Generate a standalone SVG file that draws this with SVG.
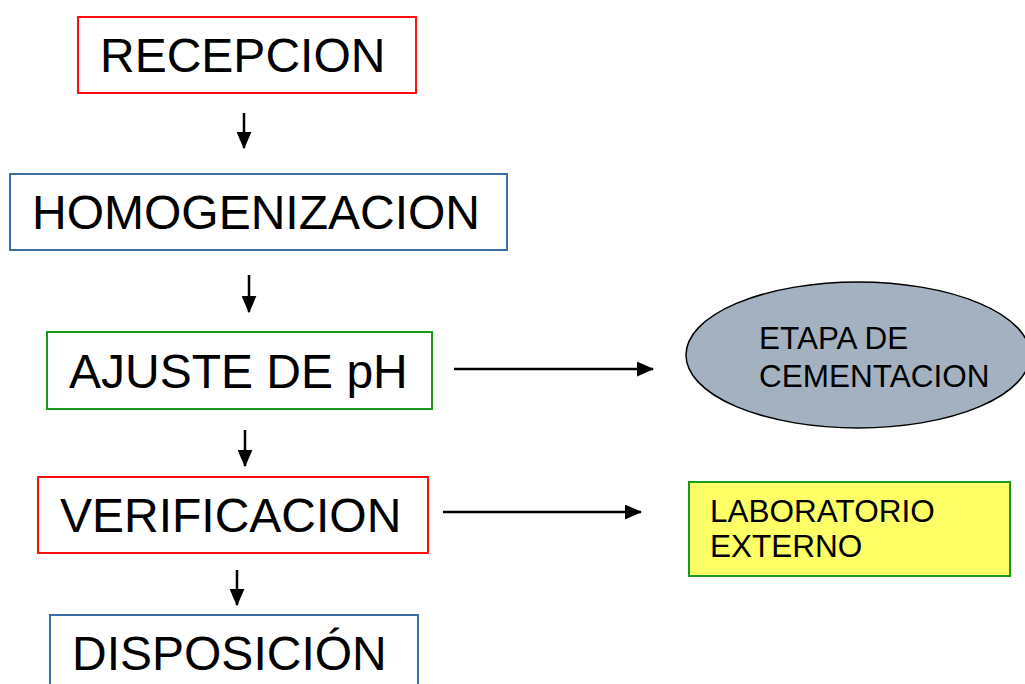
<svg xmlns="http://www.w3.org/2000/svg" width="1025" height="684" viewBox="0 0 1025 684">
<style>
.big{font-family:"Liberation Sans",Arial,sans-serif;font-size:48px;fill:#000}
.small{font-family:"Liberation Sans",Arial,sans-serif;font-size:31.5px;fill:#000}
.box{fill:#fff;stroke-width:2}
.red{stroke:#ff1010}
.blue{stroke:#3d6ea5}
.green{stroke:#1a9a1a}
.conn{stroke:#000;stroke-width:2.5;fill:none;marker-end:url(#ah)}
</style>
<defs>
<marker id="ah" markerWidth="7" markerHeight="6" refX="6.5" refY="3" orient="auto" markerUnits="strokeWidth">
<path d="M0,0 L7,3 L0,6 Z" fill="#000"/>
</marker>
</defs>
<rect width="1025" height="684" fill="#fff"/>
<g id="recepcion">
<rect class="box red" x="78" y="17" width="338" height="76"/>
<text class="big" x="100" y="72">RECEPCION</text>
</g>
<g id="homogenizacion">
<rect class="box blue" x="10" y="174" width="497" height="76"/>
<text class="big" x="32" y="229">HOMOGENIZACION</text>
</g>
<g id="ajuste">
<rect class="box green" x="47" y="332" width="385" height="77"/>
<text class="big" x="69" y="388">AJUSTE DE pH</text>
</g>
<g id="verificacion">
<rect class="box red" x="38" y="477" width="390" height="76"/>
<text class="big" x="60" y="532">VERIFICACION</text>
</g>
<g id="disposicion">
<rect class="box blue" x="50" y="615" width="368" height="90"/>
<text class="big" x="72" y="670">DISPOSICIÓN</text>
</g>
<g id="cementacion">
<ellipse cx="858" cy="355" rx="172" ry="73" fill="#a3b1c0" stroke="#000" stroke-width="1.5"/>
<text class="small" x="759" y="349">ETAPA DE</text>
<text class="small" x="759" y="387">CEMENTACION</text>
</g>
<g id="laboratorio">
<rect x="689" y="482" width="321" height="94" fill="#ffff66" stroke="#1a9a1a" stroke-width="2"/>
<text class="small" x="710" y="522">LABORATORIO</text>
<text class="small" x="710" y="557">EXTERNO</text>
</g>
<g id="connectors">
<line class="conn" x1="244" y1="113" x2="244" y2="148"/>
<line class="conn" x1="249" y1="275" x2="249" y2="312"/>
<line class="conn" x1="245" y1="430" x2="245" y2="466"/>
<line class="conn" x1="237" y1="570" x2="237" y2="605"/>
<line class="conn" x1="454" y1="369" x2="653" y2="369"/>
<line class="conn" x1="443" y1="512" x2="641" y2="512"/>
</g>
</svg>
